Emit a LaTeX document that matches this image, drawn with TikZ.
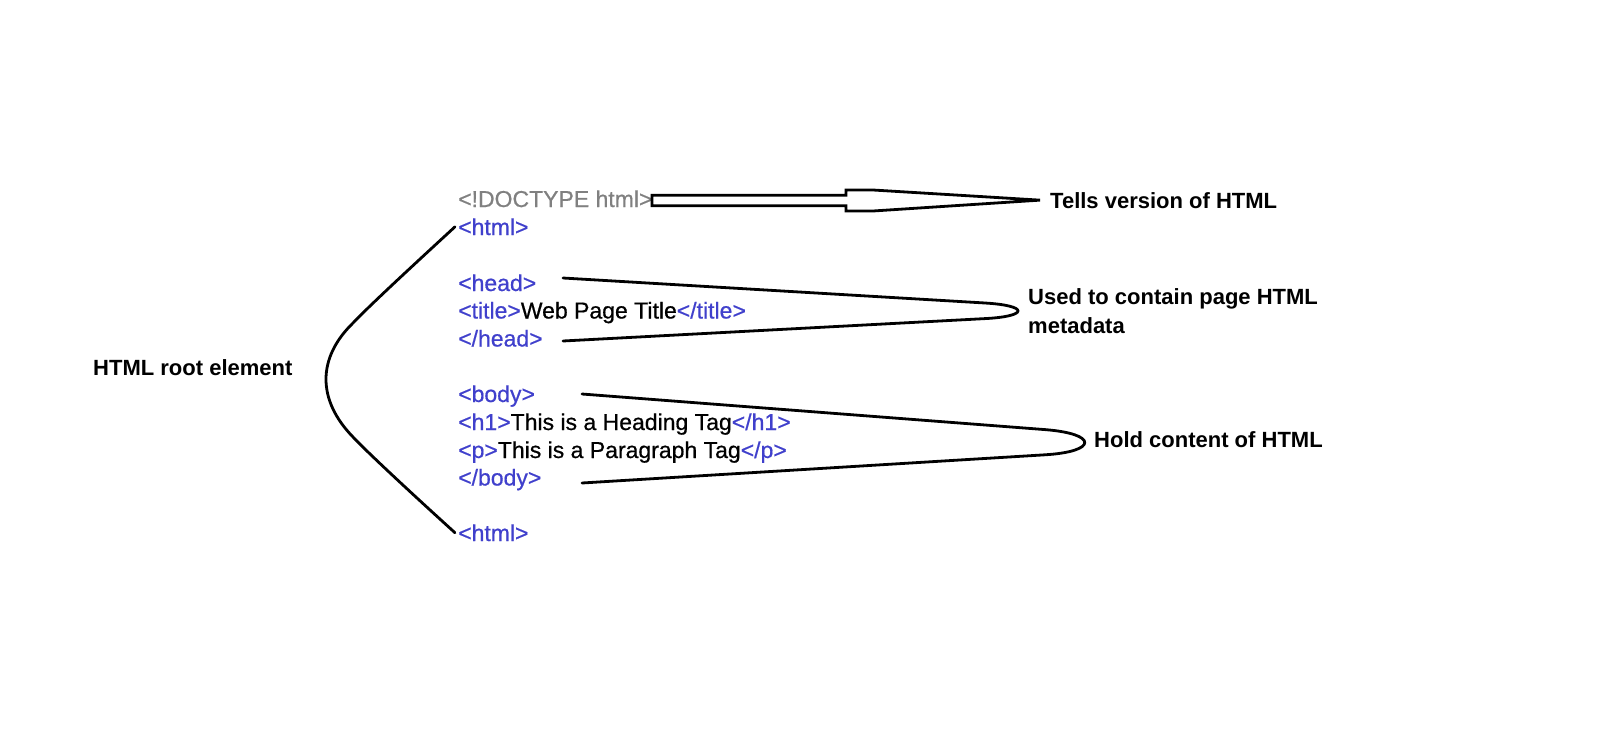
\documentclass[tikz,border=0pt]{standalone}
\usepackage{fontspec}
\setmainfont{Liberation Sans}
\newfontfamily\codefont[FakeBold=0.6]{Liberation Sans}
\usetikzlibrary{calc}
\definecolor{tagblue}{RGB}{64,64,204}
\definecolor{docgray}{RGB}{128,128,128}
\newcommand\tagc[1]{\textcolor{tagblue}{#1}}
\begin{document}
\begin{tikzpicture}[x=1pt,y=-1pt,
  code/.style={anchor=base west, inner sep=0pt, font=\codefont\fontsize{23}{27}\selectfont},
  lbl/.style={anchor=base west, inner sep=0pt, font=\fontsize{22}{27}\selectfont\bfseries},
  curve/.style={line width=2.8pt, line cap=round, line join=round},
  arrowline/.style={line width=2.8pt, line join=miter}]
\useasboundingbox[fill=white] (0,0) rectangle (1606,742);

% code lines
\node[code] (doctype) at (458,207) {\textcolor{docgray}{<!DOCTYPE html>}};
\node[code] (html1) at (458,235) {\tagc{<html>}};
\node[code] (head) at (458,291) {\tagc{<head>}};
\node[code] (title) at (458,318.5) {\tagc{<title>}Web Page Title\tagc{</title>}};
\node[code] (headend) at (458,346.5) {\tagc{</head>}};
\node[code] (body) at (458,402) {\tagc{<body>}};
\node[code] (hone) at (458,430) {\tagc{<h1>}This is a Heading Tag\tagc{</h1>}};
\node[code] (para) at (458,458) {\tagc{<p>}This is a Paragraph Tag\tagc{</p>}};
\node[code] (bodyend) at (458,485.5) {\tagc{</body>}};
\node[code] (html2) at (458,541) {\tagc{<html>}};

% labels
\node[lbl] (tells) at (1050,208) {Tells version of HTML};
\node[lbl] (used) at (1028,304.5) {Used to contain page HTML};
\node[lbl] (meta) at (1028,333.5) {metadata};
\node[lbl] (hold) at (1094,447) {Hold content of HTML};
\node[lbl] (root) at (93,375.5) {HTML root element};

% hollow arrow DOCTYPE -> Tells
\coordinate (aS) at (652,200.5);
\coordinate (aE) at ($(tells.west)+(-10,0)$);
\draw[arrowline] ($(aS)+(0,-5.2)$) -- (846,195.3) -- (846,190) -- (873,190)
  -- (aE) -- (873,211) -- (846,211) -- (846,205.7) -- ($(aS)+(0,5.2)$) -- cycle;

% root curve
\draw[curve] ($(html1.west)+(-3,0)$) .. controls (420,259) and (370,305) .. (353,323)
  .. controls (317,358) and (317,400) .. (353,437)
  .. controls (370,455) and (420,501) .. ($(html2.west)+(-3,0)$);

% head brace
\coordinate (hb1) at (563,278);
\coordinate (hb2) at (563,341);
\draw[curve] (hb1) -- (985,303) .. controls (1029,305.6) and (1029,316.3) .. (985,318.6) -- (hb2);

% body brace
\coordinate (bb1) at (582,394);
\coordinate (bb2) at (582,483);
\draw[curve] (bb1) -- (1045,429.6) .. controls (1098,433.7) and (1098,451.6) .. (1045,454.8) -- (bb2);
\end{tikzpicture}
\end{document}
